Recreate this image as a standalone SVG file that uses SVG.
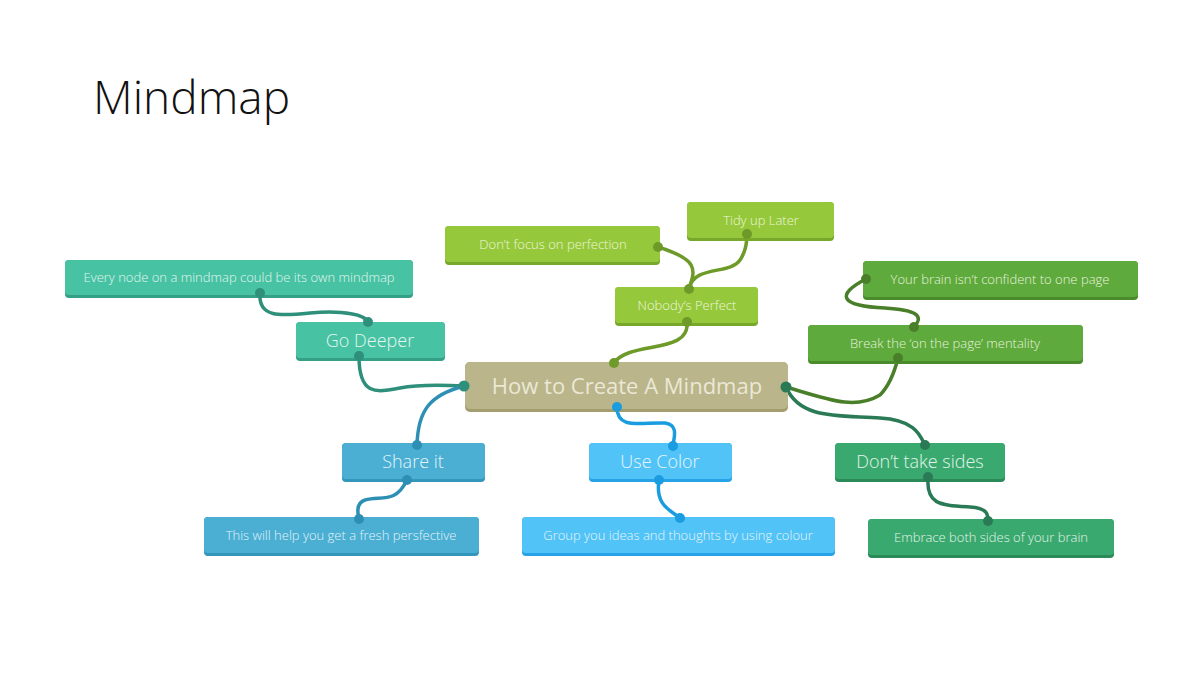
<svg xmlns="http://www.w3.org/2000/svg" width="1200" height="675" viewBox="0 0 1200 675">
<style>
.t{font-family:"Open Sans","Noto Sans","Liberation Sans",sans-serif;font-weight:300;text-anchor:middle;dominant-baseline:central}
.s{font-size:13px}
.m{font-size:18px}
.b{font-size:22px;font-weight:400}
.c{stroke-width:3.5;fill:none;stroke-linecap:round}
</style>
<rect width="1200" height="675" fill="#ffffff"/>
<text x="93" y="114" font-family="Open Sans, Noto Sans, Liberation Sans, sans-serif" font-weight="300" font-size="46" fill="#111111">Mindmap</text>

<g id="connectors">
  <path class="c" stroke="#2e8f7a" d="M359,356 C359,395 375,393 400,388 C420,384 445,385 464,386"/>
  <path class="c" stroke="#2e8fb5" d="M464,386 C430,395 418,410 417,445"/>
  <path class="c" stroke="#2e8f7a" d="M260,293 C258,318 280,316 310,313 C345,310 365,315 368,322"/>
  <path class="c" stroke="#2e8fb5" d="M407,480 C395,505 380,495 365,500 C355,503 358,515 359,519"/>
  <path class="c" stroke="#6e9a2a" d="M614,363 C630,340 690,355 687,322"/>
  <path class="c" stroke="#6e9a2a" d="M658,247 C700,260 695,270 689,289"/>
  <path class="c" stroke="#6e9a2a" d="M689,289 C693,265 730,275 740,260 C747,250 747,240 747,234"/>
  <path class="c" stroke="#1a9de0" d="M617,407 C617,430 640,422 665,423 C680,425 673,440 673,446"/>
  <path class="c" stroke="#1a9de0" d="M659,480 C655,505 670,510 680,518"/>
  <path class="c" stroke="#4a7f2a" d="M786,387 C830,400 855,410 880,395 C890,385 895,370 898,358"/>
  <path class="c" stroke="#2a7a55" d="M786,387 C800,420 840,415 880,418 C915,420 920,435 925,445"/>
  <path class="c" stroke="#4a7f2a" d="M914,327 C925,315 915,310 885,308 C840,306 835,295 866,279"/>
  <path class="c" stroke="#2a7a55" d="M928,477 C926,505 940,505 970,507 C988,508 988,515 988,521"/>
</g>

<g id="central">
  <rect x="465" y="362" width="323" height="50" rx="5" fill="#a39d70"/>
  <rect x="465" y="362" width="323" height="47" rx="5" fill="#bab58b"/>
  <text class="t b" x="627" y="385" fill="#ebe8d6">How to Create A Mindmap</text>
</g>

<g id="go-deeper">
  <rect x="296" y="322" width="149" height="39" rx="4" fill="#35a088"/>
  <rect x="296" y="322" width="149" height="36" rx="4" fill="#47c2a3"/>
  <text class="t m" x="370" y="340" fill="#e4f6ef">Go Deeper</text>
</g>
<g id="every-node">
  <rect x="65" y="260" width="348" height="38" rx="4" fill="#35a088"/>
  <rect x="65" y="260" width="348" height="35" rx="4" fill="#47c2a3"/>
  <text class="t s" x="239" y="277" fill="#e4f6ef">Every node on a mindmap could be its own mindmap</text>
</g>

<g id="share-it">
  <rect x="342" y="443" width="143" height="39" rx="4" fill="#3396bb"/>
  <rect x="342" y="443" width="143" height="36" rx="4" fill="#4aafd3"/>
  <text class="t m" x="413" y="461" fill="#e4f3f9">Share it</text>
</g>
<g id="fresh">
  <rect x="204" y="517" width="275" height="39" rx="4" fill="#3396bb"/>
  <rect x="204" y="517" width="275" height="36" rx="4" fill="#4aafd3"/>
  <text class="t s" x="341" y="535" fill="#e4f3f9">This will help you get a fresh persfective</text>
</g>

<g id="use-color">
  <rect x="589" y="443" width="143" height="39" rx="4" fill="#26a2e6"/>
  <rect x="589" y="443" width="143" height="36" rx="4" fill="#52c3f6"/>
  <text class="t m" x="660" y="461" fill="#e6f6fe">Use Color</text>
</g>
<g id="group-colour">
  <rect x="522" y="517" width="313" height="39" rx="4" fill="#26a2e6"/>
  <rect x="522" y="517" width="313" height="36" rx="4" fill="#52c3f6"/>
  <text class="t s" x="678" y="535" fill="#e6f6fe">Group you ideas and thoughts by using colour</text>
</g>

<g id="dont-take-sides">
  <rect x="835" y="443" width="170" height="39" rx="4" fill="#2b8a58"/>
  <rect x="835" y="443" width="170" height="36" rx="4" fill="#3aa96f"/>
  <text class="t m" x="920" y="461" fill="#e3f4ea">Don’t take sides</text>
</g>
<g id="embrace">
  <rect x="868" y="519" width="246" height="39" rx="4" fill="#2b8a58"/>
  <rect x="868" y="519" width="246" height="36" rx="4" fill="#3aa96f"/>
  <text class="t s" x="991" y="537" fill="#e3f4ea">Embrace both sides of your brain</text>
</g>

<g id="break-page">
  <rect x="808" y="325" width="275" height="39" rx="4" fill="#4a8c2c"/>
  <rect x="808" y="325" width="275" height="36" rx="4" fill="#5faa3c"/>
  <text class="t s" x="945" y="343" fill="#e6f2df">Break the ‘on the page’ mentality</text>
</g>
<g id="your-brain">
  <rect x="863" y="261" width="275" height="39" rx="4" fill="#4a8c2c"/>
  <rect x="863" y="261" width="275" height="36" rx="4" fill="#5faa3c"/>
  <text class="t s" x="1000" y="279" fill="#e6f2df">Your brain isn’t confident to one page</text>
</g>

<g id="nobodys-perfect">
  <rect x="615" y="287" width="143" height="39" rx="4" fill="#78a82a"/>
  <rect x="615" y="287" width="143" height="36" rx="4" fill="#96c83c"/>
  <text class="t s" x="687" y="305" fill="#eef6dd">Nobody’s Perfect</text>
</g>
<g id="dont-focus">
  <rect x="445" y="226" width="215" height="39" rx="4" fill="#78a82a"/>
  <rect x="445" y="226" width="215" height="36" rx="4" fill="#96c83c"/>
  <text class="t s" x="553" y="244" fill="#eef6dd">Don’t focus on perfection</text>
</g>
<g id="tidy-up">
  <rect x="687" y="202" width="147" height="39" rx="4" fill="#78a82a"/>
  <rect x="687" y="202" width="147" height="36" rx="4" fill="#96c83c"/>
  <text class="t s" x="761" y="220" fill="#eef6dd">Tidy up Later</text>
</g>

<g id="dots">
  <circle cx="464" cy="386" r="5.5" fill="#2e8f7a"/>
  <circle cx="359" cy="356" r="5" fill="#2e8f7a"/>
  <circle cx="368" cy="322" r="5" fill="#2e8f7a"/>
  <circle cx="260" cy="293" r="5" fill="#2e8f7a"/>
  <circle cx="417" cy="445" r="5" fill="#2e8fb5"/>
  <circle cx="407" cy="480" r="5" fill="#2e8fb5"/>
  <circle cx="359" cy="519" r="5" fill="#2e8fb5"/>
  <circle cx="614" cy="363" r="5" fill="#6e9a2a"/>
  <circle cx="687" cy="322" r="5" fill="#6e9a2a"/>
  <circle cx="689" cy="289" r="5" fill="#6e9a2a"/>
  <circle cx="658" cy="247" r="5" fill="#6e9a2a"/>
  <circle cx="747" cy="234" r="5" fill="#6e9a2a"/>
  <circle cx="617" cy="407" r="5" fill="#1a9de0"/>
  <circle cx="673" cy="446" r="5" fill="#1a9de0"/>
  <circle cx="659" cy="480" r="5" fill="#1a9de0"/>
  <circle cx="680" cy="518" r="5" fill="#1a9de0"/>
  <circle cx="786" cy="387" r="5.5" fill="#2a7a55"/>
  <circle cx="898" cy="358" r="5" fill="#4a7f2a"/>
  <circle cx="914" cy="327" r="5" fill="#4a7f2a"/>
  <circle cx="866" cy="279" r="5" fill="#4a7f2a"/>
  <circle cx="925" cy="445" r="5" fill="#2a7a55"/>
  <circle cx="928" cy="477" r="5" fill="#2a7a55"/>
  <circle cx="988" cy="521" r="5" fill="#2a7a55"/>
</g>
</svg>
